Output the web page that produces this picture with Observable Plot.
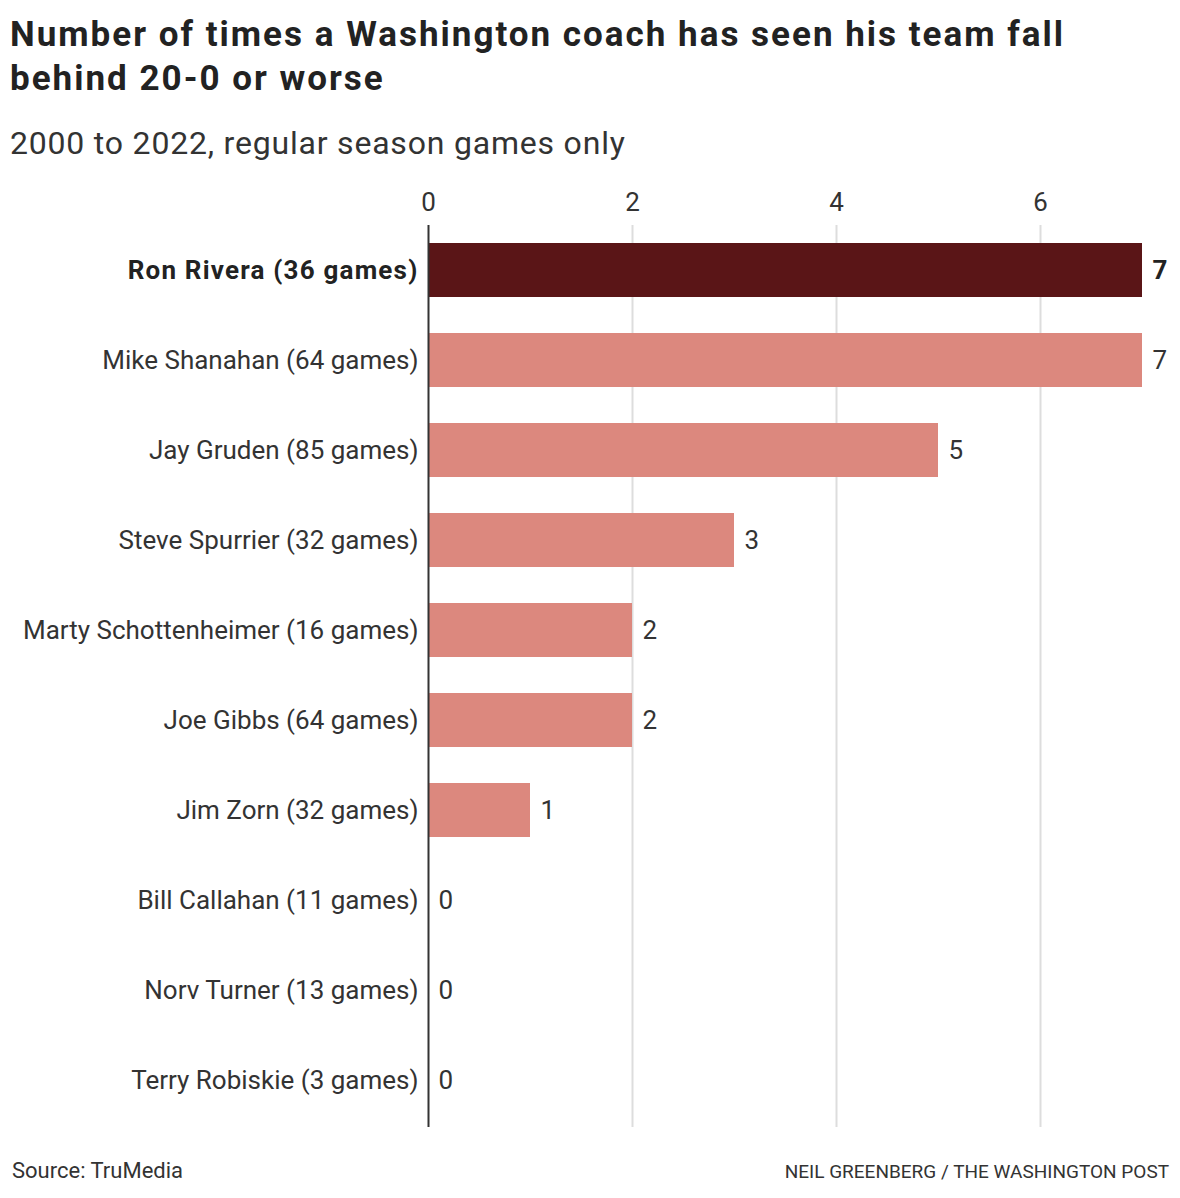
<!DOCTYPE html>
<html><head><meta charset="utf-8">
<script src="https://cdn.jsdelivr.net/npm/d3@7"></script>
<script src="https://cdn.jsdelivr.net/npm/@observablehq/plot@0.6"></script>
<style>
body{margin:0;background:#fff;font-family:Roboto,"Noto Sans",sans-serif;color:#222;}
#wrap{width:1180px;height:1198px;position:relative;}
h1{margin:0;position:absolute;left:10px;top:13px;width:1170px;font-size:35px;line-height:44px;font-weight:700;color:#222;letter-spacing:2px;white-space:nowrap;}
.sub{position:absolute;left:10px;top:124px;font-size:32px;color:#333;letter-spacing:0.8px;}
#chart{position:absolute;left:0;top:170px;}
#chart g[font-weight="700"] text{letter-spacing:1.2px;}
.src{position:absolute;left:12px;top:1158px;font-size:22px;color:#333;}
.credit{position:absolute;right:11px;top:1160px;font-size:19px;color:#333;}
</style></head>
<body><div id="wrap">
<h1>Number of times a Washington coach has seen his team fall<br>behind 20-0 or worse</h1>
<div class="sub">2000 to 2022, regular season games only</div>
<div id="chart"></div>
<div class="src">Source: TruMedia</div>
<div class="credit">NEIL GREENBERG / THE WASHINGTON POST</div>
</div>
<script>
const coaches = ["Ron Rivera (36 games)","Mike Shanahan (64 games)","Jay Gruden (85 games)","Steve Spurrier (32 games)","Marty Schottenheimer (16 games)","Joe Gibbs (64 games)","Jim Zorn (32 games)","Bill Callahan (11 games)","Norv Turner (13 games)","Terry Robiskie (3 games)"];
const counts = [7,7,5,3,2,2,1,0,0,0];
const highlight = "Ron Rivera (36 games)";
const xTicks = [0,2,4,6];
const data = coaches.map((c,i)=>({coach:c,count:counts[i],hl:c===highlight}));
const hl = data.filter(d=>d.hl), rest = data.filter(d=>!d.hl);
const chart = Plot.plot({
  width:1180, height:960,
  marginLeft:428, marginRight:38, marginTop:55, marginBottom:5,
  style:{fontFamily:"Roboto, sans-serif", fontSize:"26px", color:"#333", background:"#fff"},
  x:{domain:[0,7], axis:null, label:null},
  y:{domain:coaches, padding:0.4, paddingOuter:0.2, axis:null, label:null},
  marks:[
    Plot.ruleX(xTicks.filter(t=>t>0), {stroke:"#ddd", strokeWidth:2, insetBottom:-2}),
    Plot.axisX(xTicks, {anchor:"top", tickSize:0, tickPadding:15, fontSize:26, fill:"#333", label:null}),
    Plot.barX(data, {y:"coach", x:"count", fill:d=>d.hl?"#5a1517":"#dc887e"}),
    Plot.ruleX([0], {stroke:"#333", strokeWidth:2, insetBottom:-2}),
    Plot.text(rest, {y:"coach", x:0, text:"coach", textAnchor:"end", dx:-10, fill:"#333", fontSize:26}),
    Plot.text(hl, {y:"coach", x:0, text:"coach", textAnchor:"end", dx:-10, fill:"#222", fontSize:26, fontWeight:700}),
    Plot.text(rest, {y:"coach", x:"count", text:d=>String(d.count), textAnchor:"start", dx:10, fill:"#333", fontSize:26}),
    Plot.text(hl, {y:"coach", x:"count", text:d=>String(d.count), textAnchor:"start", dx:10, fill:"#222", fontSize:26, fontWeight:700})
  ]
});
document.getElementById("chart").appendChild(chart);
</script>
</body></html>
